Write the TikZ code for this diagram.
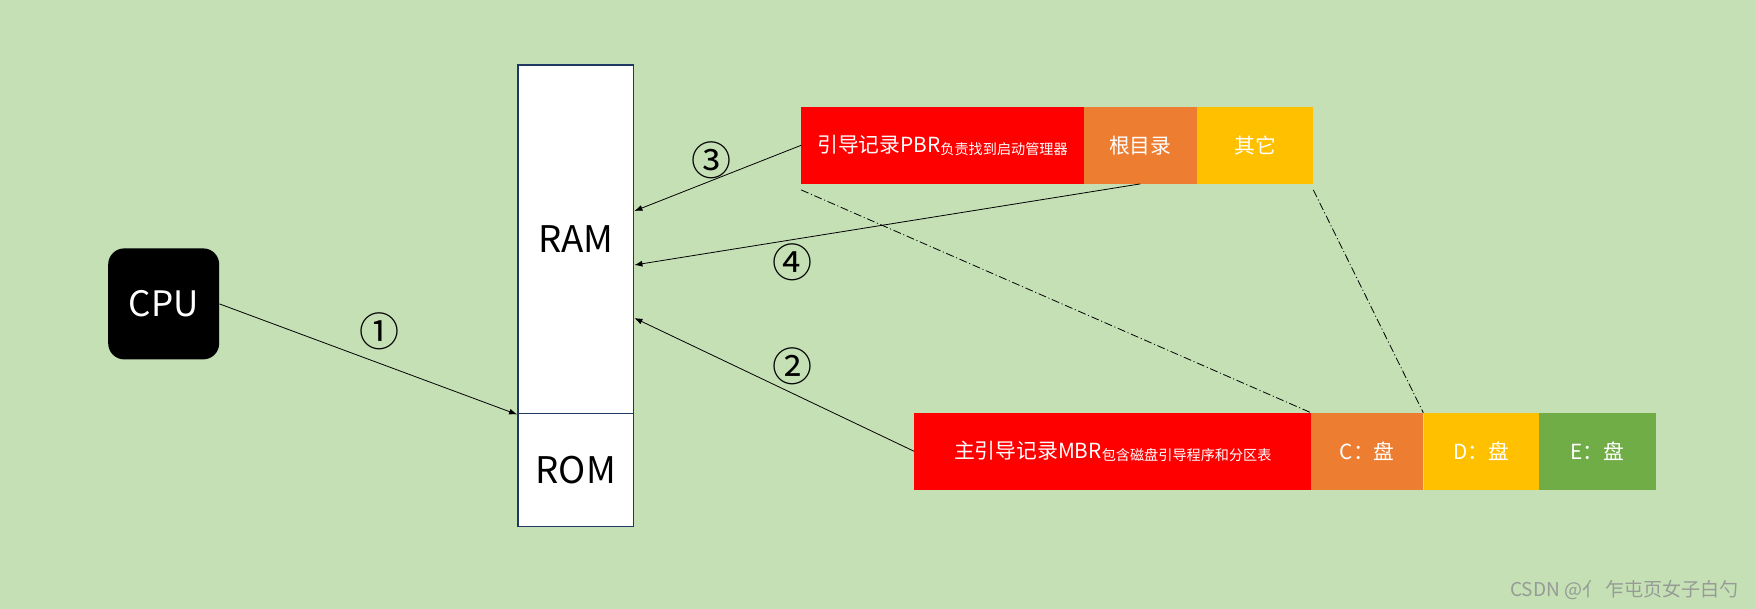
\documentclass[tikz,border=0pt]{standalone}
\usepackage{fontspec}
\setmainfont{Noto Sans CJK SC}
\usetikzlibrary{arrows.meta}
\definecolor{bg}{HTML}{C5E0B4}
\definecolor{navy}{HTML}{1F3864}
\definecolor{orng}{HTML}{ED7D31}
\definecolor{yel}{HTML}{FFC000}
\definecolor{grn}{HTML}{70AD47}
\definecolor{wmgray}{RGB}{150,155,150}
\tikzset{
  cpubox/.style={fill=black, rounded corners=12pt, minimum width=83.25pt, minimum height=83.25pt, inner sep=0pt, text=white, font=\fontsize{26.3}{30}\selectfont},
  mem/.style={draw=navy, line width=1.4pt, fill=white, minimum width=86.6pt, inner sep=0pt, text=black, font=\fontsize{27.5}{31}\selectfont},
  seg/.style={inner sep=0pt, text=white, minimum height=57.5pt, font=\fontsize{15.6}{18}\selectfont},
  arr/.style={line width=0.6pt, -{Latex[length=6pt,width=4.5pt]}},
  dd/.style={line width=0.6pt, dash pattern=on 6pt off 2pt on 0.8pt off 2pt},
  num/.style={inner sep=0pt, text=black, font=\fontsize{30}{34}\selectfont},
  wm/.style={inner sep=0pt, text=wmgray, font=\fontsize{14.3}{16}\selectfont}
}
\newcommand{\smalltxt}[1]{{\fontsize{10.6}{12}\selectfont\raisebox{-2pt}{#1}}}
\begin{document}
\begin{tikzpicture}[x=0.75pt,y=-0.75pt]
\fill[bg] (0,0) rectangle (1755,609);
\useasboundingbox (0,0) rectangle (1755,609);

\node[cpubox] (cpu) at (163.7,303.9) {CPU};
\node[mem, minimum height=261.4pt] (ram) at (575.75,239.25) {RAM};
\node[mem, minimum height=84.75pt] (rom) at (575.75,470) {ROM};

\node[seg, fill=red, minimum width=211.6pt] (pbr) at (942.45,145.3) {引导记录PBR\smalltxt{负责找到启动管理器}};
\node[seg, fill=orng, minimum width=84.75pt, anchor=west] (root) at ([xshift=-0.2pt]pbr.east) {根目录};
\node[seg, fill=yel, minimum width=87pt, anchor=west] (other) at ([xshift=-0.2pt]root.east) {其它};

\node[seg, fill=red, minimum width=297.4pt] (mbr) at (1112.75,451.35) {主引导记录MBR\smalltxt{包含磁盘引导程序和分区表}};
\node[seg, fill=orng, minimum width=84pt, anchor=west] (cdisk) at ([xshift=-0.2pt]mbr.east) {C：盘};
\node[seg, fill=yel, minimum width=86.25pt, anchor=west] (ddisk) at ([xshift=-0.2pt]cdisk.east) {D：盘};
\node[seg, fill=grn, minimum width=87.75pt, anchor=west] (edisk) at ([xshift=-0.2pt]ddisk.east) {E：盘};

\draw[arr] (cpu.east) -- (ram.south west);
\draw[arr] (pbr.west) -- ([yshift=21.2pt]ram.east);
\draw[arr] (root.south) -- ([yshift=-19.3pt]ram.east);
\draw[arr] (mbr.west) -- ([yshift=-59.1pt]ram.east);

\coordinate (d1) at ([yshift=-4.5pt]pbr.south west);
\coordinate (d2) at ([yshift=-4.5pt]other.south east);
\draw[dd] (d1) -- (cdisk.north west);
\draw[dd] (d2) -- (ddisk.north west);

\node[num] (n1) at (379.5,331.7) {①};
\node[num] (n2) at (792.8,365.8) {②};
\node[num] (n3) at (711.7,160.3) {③};
\node[num] (n4) at (792.8,262.5) {④};

\node[wm] (wm) at (1624.5,590) {CSDN @亻 乍屯页女子白勺};
\end{tikzpicture}
\end{document}
